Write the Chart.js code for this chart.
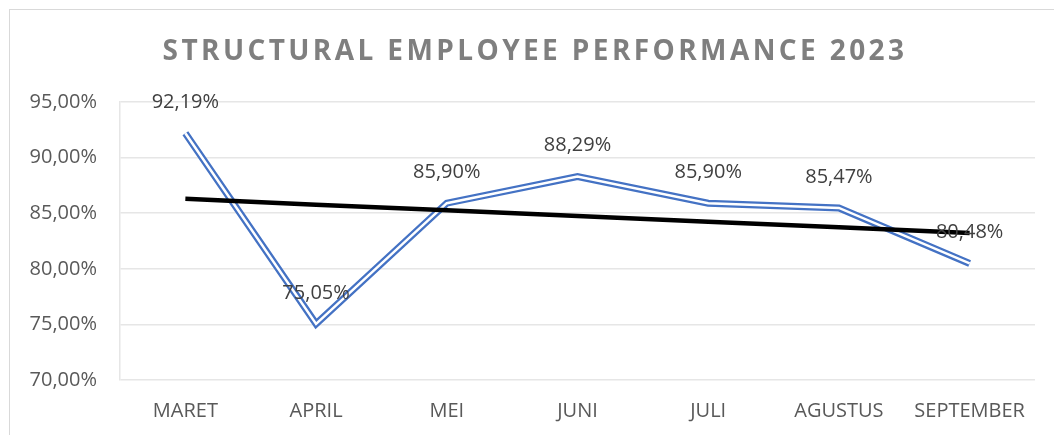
<!DOCTYPE html>
<html>
<head>
<meta charset="utf-8">
<script src="https://cdn.jsdelivr.net/npm/chart.js@4/dist/chart.umd.min.js"></script>
<style>
    body { margin: 0; background: #fff; overflow: hidden; }
    #frame { position: absolute; left: 9px; top: 9px; width: 1200px; height: 600px; border: 1px solid #d9d9d9; }
    #chart { position: absolute; left: 0; top: 0; }
</style>
</head>
<body>
<div id="frame"></div>
<canvas id="chart" width="1054" height="435"></canvas>
<script>
// data
const months = ['MARET', 'APRIL', 'MEI', 'JUNI', 'JULI', 'AGUSTUS', 'SEPTEMBER'];
const performance = [92.19, 75.05, 85.90, 88.29, 85.90, 85.47, 80.48];
// linear trendline as drawn in the picture
const trend = [86.29, 85.77, 85.26, 84.75, 84.24, 83.73, 83.22];
const yTicks = [70, 75, 80, 85, 90, 95];

const titleText = 'STRUCTURAL EMPLOYEE PERFORMANCE 2023';
const FONT = '"Open Sans", "Liberation Sans", sans-serif';

function pct(v) {
    return v.toFixed(2).replace('.', ',') + '%';
}

// title with letter spacing (Chart.js title can't do that)
const titlePlugin = {
    id: 'spacedTitle',
    afterDraw(chart) {
        const ctx = chart.ctx;
        ctx.save();
        ctx.font = 'bold 28px ' + FONT;
        ctx.letterSpacing = '3.4px';
        ctx.fillStyle = '#7f7f7f';
        ctx.textAlign = 'center';
        ctx.textBaseline = 'alphabetic';
        ctx.fillText(titleText, 535, 60);
        ctx.restore();
    }
};

// value labels above the series points
const labelPlugin = {
    id: 'valueLabels',
    afterDatasetsDraw(chart) {
        const ctx = chart.ctx;
        const meta = chart.getDatasetMeta(0);
        ctx.save();
        ctx.font = '20px ' + FONT;
        ctx.fillStyle = '#404040';
        ctx.textAlign = 'center';
        ctx.textBaseline = 'middle';
        meta.data.forEach((pt, i) => {
            ctx.fillText(pct(performance[i]), pt.x, pt.y - 31);
        });
        ctx.restore();
    }
};

const ctx = document.getElementById('chart').getContext('2d');
new Chart(ctx, {
    type: 'line',
    data: {
        labels: months,
        datasets: [
            {
                // outer blue stroke of the double line
                data: performance,
                borderColor: '#4472c4',
                borderWidth: 7,
                borderJoinStyle: 'miter',
                pointRadius: 0,
                tension: 0,
                order: 3
            },
            {
                // white core -> compound line look
                data: performance,
                borderColor: '#ffffff',
                borderWidth: 2.5,
                borderJoinStyle: 'miter',
                pointRadius: 0,
                tension: 0,
                order: 2
            },
            {
                data: trend,
                borderColor: '#000000',
                borderWidth: 4.5,
                pointRadius: 0,
                tension: 0,
                order: 1
            }
        ]
    },
    options: {
        responsive: false,
        animation: false,
        layout: { padding: { left: 0, right: 19, top: 102, bottom: 0 } },
        plugins: {
            legend: { display: false },
            title: { display: false },
            tooltip: { enabled: false }
        },
        scales: {
            x: {
                offset: true,
                grid: { display: false, drawTicks: false, offset: true },
                border: { display: false },
                ticks: { color: '#595959', font: { family: FONT, size: 20 }, padding: 19, maxRotation: 0, autoSkip: false },
                afterFit(scale) {
                    scale.height = 55;
                    scale.paddingLeft = 0;
                    scale.paddingRight = 0;
                }
            },
            y: {
                min: 70,
                max: 95,
                afterBuildTicks(scale) { scale.ticks = yTicks.map(v => ({ value: v })); },
                grid: { color: '#e6e6e6', lineWidth: 1.5, drawTicks: false },
                border: { display: true, color: '#e6e6e6', width: 1.5 },
                ticks: {
                    color: '#595959',
                    font: { family: FONT, size: 20 },
                    padding: 23,
                    callback: v => pct(v)
                },
                afterFit(scale) { scale.width = 120; }
            }
        }
    },
    plugins: [labelPlugin, titlePlugin]
});
</script>
</body>
</html>
